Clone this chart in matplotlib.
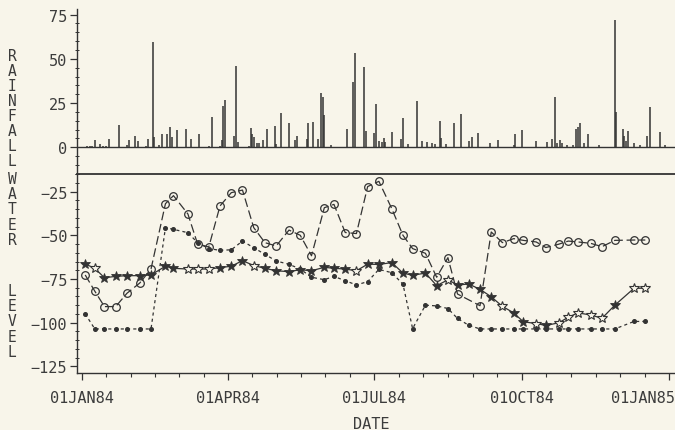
import numpy as np
import pandas as pd
import matplotlib
matplotlib.use("Agg")
import matplotlib.pyplot as plt
import matplotlib.dates as mdates
import matplotlib.transforms as mtransforms
from matplotlib.ticker import FixedLocator, MultipleLocator, FuncFormatter

# ---------------- data ----------------
# daily rainfall (mm), keyed by day of 1984 (0 = 01JAN84)
rain_day = [3, 5, 6, 8, 11, 13, 15, 17, 23, 28, 29, 33, 35, 40, 41, 44, 45, 48, 50, 53,
            55, 56, 59, 65, 68, 73, 79, 81, 86, 87, 88, 89, 95, 96, 97, 104, 105, 106, 107, 109,
            110, 113, 115, 120, 121, 124, 129, 133, 134, 140, 141, 144, 147, 149, 150, 151, 155, 165, 169, 170,
            176, 177, 182, 183, 185, 187, 188, 189, 193, 199, 200, 203, 209, 212, 215, 218, 220, 223, 224, 227,
            232, 236, 241, 243, 247, 254, 259, 269, 270, 274, 283, 290, 293, 295, 296, 298, 299, 302, 306, 308,
            309, 310, 313, 315, 322, 332, 333, 337, 338, 339, 340, 344, 348, 352, 354, 360, 363]
rain_mm = [0.6, 0.8, 1.0, 4.1, 1.9, 1.0, 1.0, 4.5, 12.8, 1.2, 4.1, 6.2, 3.8, 1.0, 4.7, 59.4, 5.7, 1.3, 7.5, 7.5,
           11.3, 5.7, 10.0, 10.4, 4.7, 7.5, 1.0, 17.0, 1.0, 4.1, 23.6, 26.8, 6.2, 46.2, 2.8, 1.0, 10.7, 7.5, 5.7, 2.3,
           2.5, 4.1, 10.2, 12.1, 1.9, 19.4, 13.6, 4.1, 6.4, 4.7, 14.0, 14.1, 4.7, 30.5, 28.3, 18.3, 1.5, 10.4, 37.1, 53.4,
           45.2, 9.4, 7.9, 24.5, 3.8, 3.2, 5.1, 3.0, 8.5, 4.5, 16.4, 1.9, 26.4, 3.6, 3.2, 2.3, 1.7, 15.1, 5.1, 1.7,
           13.6, 18.7, 3.6, 5.7, 7.9, 2.3, 4.1, 1.5, 7.5, 9.8, 3.6, 2.8, 4.7, 28.3, 2.3, 4.1, 2.6, 1.3, 1.3, 10.4,
           11.3, 13.9, 2.6, 7.4, 1.3, 72.0, 19.8, 10.2, 6.4, 3.6, 9.2, 2.6, 1.3, 6.4, 23.0, 8.9, 1.3]

# weekly water-level readings
dates_a = ["1984-01-03", "1984-01-09", "1984-01-15", "1984-01-22", "1984-01-29", "1984-02-06",
           "1984-02-13", "1984-02-22", "1984-02-27", "1984-03-07", "1984-03-13", "1984-03-20",
           "1984-03-27", "1984-04-03", "1984-04-10", "1984-04-17", "1984-04-24", "1984-05-01",
           "1984-05-09", "1984-05-16", "1984-05-23", "1984-05-31", "1984-06-06", "1984-06-13",
           "1984-06-20", "1984-06-27", "1984-07-04", "1984-07-12", "1984-07-19", "1984-07-25",
           "1984-08-02", "1984-08-09", "1984-08-16", "1984-08-22", "1984-09-05", "1984-09-12",
           "1984-09-19", "1984-09-26", "1984-10-02", "1984-10-10", "1984-10-16", "1984-10-24",
           "1984-10-30", "1984-11-05", "1984-11-13", "1984-11-20", "1984-11-28", "1984-12-10",
           "1984-12-17"]
level_a = [-72.7, -82.0, -90.8, -90.8, -83.2, -77.3, -69.3, -31.9, -27.3, -37.8, -54.9, -56.7,
           -33.2, -25.6, -24.1, -45.6, -54.2, -56.1, -47.0, -50.0, -61.7, -34.2, -32.3, -48.4,
           -49.0, -22.1, -19.1, -34.7, -50.0, -57.6, -60.3, -74.0, -62.8, -83.6, -90.3, -48.1,
           -54.2, -51.9, -52.9, -53.8, -57.0, -55.1, -53.3, -53.8, -54.6, -56.5, -52.9, -52.7,
           -52.7]

dates_bc = ["1984-01-03", "1984-01-09", "1984-01-15", "1984-01-22", "1984-01-29", "1984-02-06",
            "1984-02-13", "1984-02-22", "1984-02-27", "1984-03-07", "1984-03-13", "1984-03-20",
            "1984-03-27", "1984-04-03", "1984-04-10", "1984-04-17", "1984-04-24", "1984-05-01",
            "1984-05-09", "1984-05-16", "1984-05-23", "1984-05-31", "1984-06-06", "1984-06-13",
            "1984-06-20", "1984-06-27", "1984-07-04", "1984-07-12", "1984-07-19", "1984-07-25",
            "1984-08-02", "1984-08-09", "1984-08-16", "1984-08-22", "1984-08-29", "1984-09-05",
            "1984-09-12", "1984-09-19", "1984-09-26", "1984-10-02", "1984-10-10", "1984-10-16",
            "1984-10-24", "1984-10-30", "1984-11-05", "1984-11-13", "1984-11-20", "1984-11-28",
            "1984-12-10", "1984-12-17"]
level_b = [-95.0, -103.6, -103.6, -103.6, -103.6, -103.6, -103.6, -45.6, -46.6, -48.5, -54.2, -57.6,
           -58.6, -58.3, -53.3, -57.1, -60.9, -64.7, -66.6, -69.3, -74.0, -75.4, -73.5, -76.0,
           -78.4, -76.5, -69.5, -71.4, -78.0, -103.4, -90.0, -90.4, -91.9, -97.6, -101.5, -103.6,
           -103.6, -103.6, -103.6, -103.6, -103.6, -103.6, -103.6, -103.6, -103.6, -103.6, -103.6,
           -103.6, -99.3, -99.3]
level_c = [-66.4, -68.9, -74.3, -73.5, -73.1, -73.1, -72.7, -67.7, -68.9, -69.3, -69.3, -69.3,
           -68.5, -67.7, -64.5, -67.3, -68.9, -70.3, -70.8, -69.7, -70.3, -68.3, -68.9, -69.3,
           -70.3, -66.5, -66.7, -65.6, -71.6, -72.9, -71.6, -78.8, -75.5, -78.4, -77.9, -80.9,
           -85.2, -90.7, -94.4, -99.5, -100.5, -101.6, -100.1, -96.9, -94.4, -95.6, -97.5, -90.0,
           -80.3, -80.3]

# readings plotted with a hollow star
open_star = [1, 9, 10, 11, 15, 24, 32, 37, 40, 42, 43, 44, 45, 46, 48, 49]

# ---------------- style ----------------
BG = "#f8f5ea"
INK = "#333333"
TXT = "#3c3c3c"
FONT = "DejaVu Sans Mono"
FS = 11

plt.rcParams["font.family"] = [FONT]

base = pd.Timestamp("1984-01-01")
rain_dates = base + pd.to_timedelta(rain_day, unit="D")
da = pd.to_datetime(dates_a)
dbc = pd.to_datetime(dates_bc)

fig = plt.figure(figsize=(6.75, 4.31), dpi=100, facecolor=BG)
ax_r = fig.add_axes([0.1141, 0.594, 0.8859, 0.3828])
ax_w = fig.add_axes([0.1141, 0.1323, 0.8859, 0.4617], sharex=ax_r)
for ax in (ax_r, ax_w):
    ax.patch.set_visible(False)
    ax.spines["top"].set_visible(False)
    ax.spines["right"].set_visible(False)
    for s in ("left", "bottom"):
        ax.spines[s].set_color(INK)
        ax.spines[s].set_linewidth(1.0)
    ax.tick_params(axis="y", which="major", direction="out", length=5, width=0.9,
                   color=INK, labelsize=FS, labelcolor=TXT, pad=2)
    ax.tick_params(axis="y", which="minor", direction="inout", length=3, width=0.7, color=INK)
# the rainfall panel's lower edge separates the two panels
ax_r.spines["bottom"].set_linewidth(1.3)
ax_r.spines["bottom"].set_zorder(5)

# rainfall
ax_r.vlines(rain_dates, 0, rain_mm, color=INK, lw=1.1)
ax_r.axhline(0, color=INK, lw=1.0)
ax_r.set_ylim(-15.1, 78.2)
ax_r.yaxis.set_major_locator(FixedLocator([0, 25, 50, 75]))
ax_r.yaxis.set_minor_locator(MultipleLocator(5))
ax_r.tick_params(axis="x", which="both", bottom=False, labelbottom=False)

# water levels
ax_w.plot(da, level_a, color=INK, lw=0.9, dashes=(7, 3), marker="o", ms=5.5,
          mfc="none", mec=INK, mew=0.9)
ax_w.plot(dbc, level_b, color=INK, lw=0.9, dashes=(2.5, 2.5), marker="o", ms=2.6,
          mfc=INK, mec=INK)
ax_w.plot(dbc, level_c, color=INK, lw=0.9, ls="-")
is_open = np.zeros(len(level_c), dtype=bool)
is_open[open_star] = True
lc = np.asarray(level_c)
ax_w.plot(dbc[~is_open], lc[~is_open], ls="none", marker="*", ms=7, mfc=INK, mec=INK, mew=0.6)
ax_w.plot(dbc[is_open], lc[is_open], ls="none", marker="*", ms=7, mfc=BG, mec=INK, mew=0.8)

ax_w.set_ylim(-128.8, -14.9)
ax_w.yaxis.set_major_locator(FixedLocator([-125, -100, -75, -50, -25]))
ax_w.yaxis.set_minor_locator(MultipleLocator(5))

# date axis
majors = pd.to_datetime(["1984-01-01", "1984-04-01", "1984-07-01", "1984-10-01", "1985-01-01"])
maj_num = mdates.date2num(majors)
minor_num = np.concatenate([np.linspace(a, b, 7)[1:-1] for a, b in zip(maj_num[:-1], maj_num[1:])])
ax_w.xaxis.set_major_locator(FixedLocator(maj_num))
ax_w.xaxis.set_minor_locator(FixedLocator(minor_num))
ax_w.xaxis.set_major_formatter(FuncFormatter(
    lambda v, p: mdates.num2date(v).strftime("%d%b%y").upper()))
ax_w.tick_params(axis="x", which="major", direction="out", length=5, width=0.9,
                 color=INK, labelsize=FS, labelcolor=TXT, pad=7)
ax_w.tick_params(axis="x", which="minor", direction="out", length=3.2, width=0.8, color=INK)
x0 = mdates.date2num(base)
ax_w.set_xlim(x0 - 3.1, x0 + 369.5)

# keep the last date label inside the figure
fig.canvas.draw()
last = ax_w.get_xticklabels()[-1]
last.set_horizontalalignment("right")
last.set_transform(last.get_transform() + mtransforms.ScaledTranslation(4 / 72, 0, fig.dpi_scale_trans))

# axis titles
fig.text(371 / 675, 1 - 425 / 431, "DATE", ha="center", va="center",
         fontsize=FS, color=TXT)
fig.text(12 / 675, 1 - 109 / 431, "\n".join("RAINFALL"), ha="center", va="center",
         fontsize=10.5, color=TXT, linespacing=1.01)
fig.text(12 / 675, 1 - 210 / 431, "\n".join("WATER"), ha="center", va="center",
         fontsize=10.5, color=TXT, linespacing=1.01)
fig.text(12 / 675, 1 - 322 / 431, "\n".join("LEVEL"), ha="center", va="center",
         fontsize=10.5, color=TXT, linespacing=1.01)

fig.savefig("out.png", dpi=100, facecolor=BG)
